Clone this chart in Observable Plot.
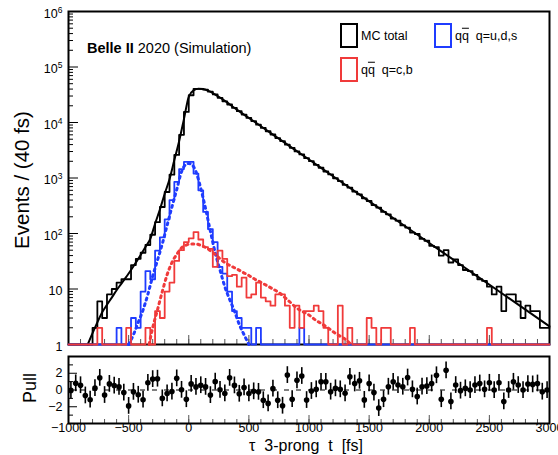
<!DOCTYPE html>
<html>
<head>
<meta charset="utf-8">
<script src="https://cdn.jsdelivr.net/npm/d3@7"></script>
<script src="https://cdn.jsdelivr.net/npm/@observablehq/plot@0.6"></script>
<style>
  html, body { margin: 0; padding: 0; background: #fff; overflow: hidden; }
  #chart { position: relative; width: 558px; height: 455px; font-family: "Liberation Sans", Arial, Helvetica, sans-serif; color: #000; }
  #chart svg { display: block; }
  .abs { position: absolute; white-space: pre; line-height: 1; }
  .box { position: absolute; box-sizing: border-box; border: 2px solid #000; background: transparent; }
  .ob { text-decoration: overline; }
</style>
</head>
<body>
<div id="chart"></div>
<script>
// ---------------- data ----------------
const xDomain = [-1000, 3000];
const binWidth = 40;
const binLow = d3.range(100).map(i => xDomain[0] + binWidth * i);

// MC total (black histogram), counts per 40 fs bin from -1000 fs
const blackCounts = [
  0,0,0,0,0,2,6,3,8,10,
  13,15,15,27,35,45,62,95,160,300,
  560,1150,2600,6000,15500,31000,40500,40500,39000,36000,
  32000,27800,24100,21100,18300,16000,13900,12100,10600,9150,
  8000,6950,6080,5250,4620,3980,3500,3010,2660,2280,
  2010,1730,1530,1310,1160,990,880,750,670,570,
  505,430,385,325,292,245,222,186,170,140,
  128,104,98,80,74,60,57,40,50,30,
  34,27,22,21,18,15,14,11,8,11,
  4,8,8,6,3,5,4,4,2,2
];
// q qbar, q = u,d,s (blue histogram)
const blueCounts = [
  0,0,0,0,0,0,0,0,0,0,
  2,0,0,3,2,9,21,15,49,85,
  180,400,850,1450,1950,1950,1200,600,245,120,
  70,25,19,9,4,3,2,2,0,2,
  0,0,0,0,0,0,0,0,2,0,
  0,0,0,0,0,0,0,0,0,0,
  0,0,0,0,0,0,0,0,0,0,
  0,0,0,0,0,0,0,0,0,0,
  0,0,0,0,0,0,0,0,0,0,
  0,0,0,0,0,0,0,0,0,0
];
// q qbar, q = c,b (red histogram)
const redCounts = [
  0,0,0,0,0,0,2,0,0,0,
  0,0,2,0,0,0,2,0,4,3,
  9,13,32,50,70,82,106,78,57,53,
  25,49,35,17,18,11,16,7,8,13,
  7,6,5,8,8,5,2,5,2,4,
  4,5,4,2,0,0,5,0,2,0,
  0,0,3,2,0,2,2,0,0,0,
  0,2,0,0,0,0,0,0,0,0,
  0,0,0,0,0,0,0,2,0,0,
  0,0,0,0,0,0,0,0,0,0
];
// fit curves
const blackFitT = [-840,-800,-760,-720,-680,-640,-600,-560,-520,-480,-440,-400,-360,-320,-280,-240,-200,-160,-120,-80,-40,0,40,80,120,160,200,240,280,400,600,800,1000,1200,1400,1600,1800,2000,2200,2400,2600,2800,3000];
const blackFitV = [1.0,1.6,2.5,3.8,5.2,7.0,9.5,12.5,16.5,22,30,41,57,80,150,270,520,950,2100,4600,11500,29000,38000,40500,40000,37500,34000,30000,26300,17100,8570,4290,2150,1075,538,269,135,67.5,33.8,16.9,8.47,4.24,2.12];
const blueFitT = [-500,-460,-420,-380,-340,-300,-260,-220,-180,-140,-100,-60,-20,0,20,60,100,140,180,220,260,300,340,380,420,460,500];
const blueFitV = [1.0,1.5,2.5,4.2,8,17,33,65,140,300,620,1300,1780,1820,1780,1300,650,280,110,45,22,11,6.5,4,2.3,1.5,1.0];
const redFitT = [-330,-300,-260,-220,-180,-140,-100,-60,-20,20,60,100,140,180,220,260,300,350,400,450,500,550,600,650,700,750,800,850,900,950,1000,1050,1100,1150,1200,1250,1300,1350];
const redFitV = [1,2,4.2,9,18,30,42,55,62,65,65,61,56,49,42,35,30,26,23,20,17.5,15,13.2,11.5,10,8.6,7,5.6,4.5,3.9,3.4,2.8,2.4,2.05,1.7,1.45,1.25,1.0];
// pulls per bin (error = 1)
const pulls = [
  -0.05,0.8,0.57,-0.65,-1.16,0.22,1.45,-0.6,0.73,0.53,
  0.37,-0.3,-1.9,-0.22,-0.57,-1.16,0.86,1.3,1.35,-1.0,
  -0.41,-0.18,1.39,0.02,-1.1,0.73,0.37,0.57,0.37,-0.61,
  1.0,0.02,-0.41,1.45,0.55,-0.45,0.3,-0.41,-0.16,-0.22,
  -1.22,-1.6,0.16,-1.22,-1.88,1.78,-1.1,1.16,1.67,-1.2,
  -0.12,0.08,0.98,0.98,-0.2,0.2,0.08,-0.39,1.57,0.78,
  1.1,-1.18,0.78,-0.31,-2.16,-1.1,0.39,0.98,0.59,0.39,
  1.49,0.08,-0.78,0.39,0.47,0.78,1.76,-1.1,2.35,-1.37,
  0.59,-0.08,0.2,0,0.59,0.78,0.08,0.86,0,0.86,
  -1.37,0,0.98,0.59,0,0.71,0.67,0.78,-0.2,0
];
const pullErr = 1;

// ticks
const yMajor = [1, 10, 100, 1000, 10000, 100000, 1000000];
const yMinor = yMajor.slice(0, -1).flatMap(d => d3.range(2, 10).map(m => m * d));
const xMajor = [-1000, -500, 0, 500, 1000, 1500, 2000, 2500, 3000];
const xMinor = d3.range(-1000, 3001, 100);
const pullMajor = [-2, 0, 2];
const pullMinor = [-3, -1, 1, 3];

// ---------------- styling ----------------
const FONT = '"Liberation Sans", Arial, Helvetica, sans-serif';
const BLUE = "#1f3cff";
const RED = "#f03a3a";
const frameW = 481;

function histRows(counts) {
  const rows = counts.map((c, i) => ({x: binLow[i], v: Math.max(c, 1)}));
  rows.push({x: xDomain[1], v: Math.max(counts[counts.length - 1], 1)});
  return rows;
}
const fitRows = (T, V) => T.map((t, i) => ({x: t, v: V[i]}));

const mainPlot = Plot.plot({
  width: 558, height: 352,
  marginLeft: 68, marginRight: 9, marginTop: 11, marginBottom: 8,
  style: {fontFamily: FONT, background: "transparent"},
  x: {domain: xDomain, axis: null},
  y: {type: "log", domain: [1, 1e6], axis: null},
  marks: [
    Plot.tickY(yMajor, {y: d => d, insetRight: frameW - 10, stroke: "#000", strokeWidth: 1}),
    Plot.tickY(yMinor, {y: d => d, insetRight: frameW - 5, stroke: "#000", strokeWidth: 1}),
    Plot.tickX(xMajor, {x: d => d, insetTop: 333 - 9, stroke: "#555", strokeWidth: 1}),
    Plot.tickX(xMinor, {x: d => d, insetTop: 333 - 5, stroke: "#555", strokeWidth: 1}),
    Plot.text(yMajor, {y: d => d, text: d => d >= 100 ? `10^${Math.round(Math.log10(d))}` : String(d),
      frameAnchor: "left", textAnchor: "end", dx: -6, dy: 2, fontSize: 12.5, fill: "#000"}),
    Plot.frame({stroke: "#000", strokeWidth: 2}),
    Plot.line(histRows(blackCounts), {x: "x", y: "v", curve: "step-after", stroke: "#000", strokeWidth: 1.8}),
    Plot.line(fitRows(blackFitT, blackFitV), {x: "x", y: "v", curve: "monotone-x", stroke: "#000", strokeWidth: 2}),
    Plot.line(histRows(blueCounts), {x: "x", y: "v", curve: "step-after", stroke: BLUE, strokeWidth: 1.8}),
    Plot.line(fitRows(blueFitT, blueFitV), {x: "x", y: "v", curve: "monotone-x", stroke: BLUE, strokeWidth: 3, strokeDasharray: "2,4"}),
    Plot.line(histRows(redCounts), {x: "x", y: "v", curve: "step-after", stroke: RED, strokeWidth: 1.8}),
    Plot.line(fitRows(redFitT, redFitV), {x: "x", y: "v", curve: "monotone-x", stroke: RED, strokeWidth: 3, strokeDasharray: "2,4"})
  ]
});

// superscripts for the log labels
mainPlot.querySelectorAll("text").forEach(t => {
  const m = /^10\^(\d+)$/.exec(t.textContent);
  if (m) t.innerHTML = `10<tspan dy="-5" font-size="8.5">${m[1]}</tspan>`;
});

const pullRows = pulls.map((p, i) => ({x: binLow[i] + binWidth / 2, p, e: pullErr}));

const pullPlot = Plot.plot({
  width: 558, height: 103,
  marginLeft: 68, marginRight: 9, marginTop: 4, marginBottom: 32,
  style: {fontFamily: FONT, background: "transparent"},
  x: {domain: xDomain, axis: null},
  y: {domain: [-4, 4], axis: null},
  marks: [
    Plot.ruleY([0], {stroke: "#000", strokeWidth: 1, strokeDasharray: "5,7"}),
    Plot.tickX(xMajor, {x: d => d, insetTop: 67 - 8, stroke: "#555", strokeWidth: 1}),
    Plot.tickX(xMinor, {x: d => d, insetTop: 67 - 4, stroke: "#555", strokeWidth: 1}),
    Plot.tickY(pullMajor, {y: d => d, insetRight: frameW - 9, stroke: "#000", strokeWidth: 1}),
    Plot.tickY(pullMinor, {y: d => d, insetRight: frameW - 5, stroke: "#000", strokeWidth: 1}),
    Plot.text(pullMajor, {y: d => d, text: d => d < 0 ? "\u2212" + (-d) : String(d),
      frameAnchor: "left", textAnchor: "end", dx: -6, fontSize: 12.5, fill: "#000"}),
    Plot.text(xMajor, {x: d => d, text: d => d < 0 ? "\u2212" + (-d) : String(d),
      frameAnchor: "bottom", lineAnchor: "top", dy: 0, fontSize: 12.5, fill: "#000"}),
    Plot.ruleX(pullRows, {x: "x", y1: d => d.p - d.e, y2: d => d.p + d.e, stroke: "#000", strokeWidth: 1.6}),
    Plot.dot(pullRows, {x: "x", y: "p", r: 2.8, fill: "#000", stroke: "none"}),
    Plot.frame({stroke: "#000", strokeWidth: 2})
  ]
});

const chart = document.getElementById("chart");
chart.appendChild(mainPlot);
chart.appendChild(pullPlot);

// overlay texts & legend
function addDiv(html, css, cls = "abs") {
  const d = document.createElement("div");
  d.className = cls;
  d.innerHTML = html;
  Object.assign(d.style, css);
  chart.appendChild(d);
  return d;
}
addDiv("Events / (40 fs)", {left: "22px", top: "180px", fontSize: "20.5px", transform: "translate(-50%,-50%) rotate(-90deg)"});
addDiv("Pull", {left: "30px", top: "388px", fontSize: "18px", transform: "translate(-50%,-50%) rotate(-90deg)"});
addDiv("\u03c4  3-prong  t  [fs]", {left: "306px", top: "438px", fontSize: "16px", transform: "translateX(-50%)"});
addDiv("<b>Belle II</b> 2020 (Simulation)", {left: "87px", top: "48px", fontSize: "14.5px", transform: "translateY(-50%)"});

const legendItems = [
  {label: "MC total", color: "#000", x: 340, y: 23},
  {label: "q<span class='ob'>q</span>  q=u,d,s", color: BLUE, x: 434, y: 23},
  {label: "q<span class='ob'>q</span>  q=c,b", color: RED, x: 340, y: 57}
];
legendItems.forEach(l => {
  addDiv("", {left: l.x + "px", top: l.y + "px", width: "18px", height: "25px", borderColor: l.color}, "box");
  addDiv(l.label, {left: (l.x + 21) + "px", top: (l.y + 13) + "px", fontSize: "12.5px", transform: "translateY(-50%)"});
});
</script>
</body>
</html>
